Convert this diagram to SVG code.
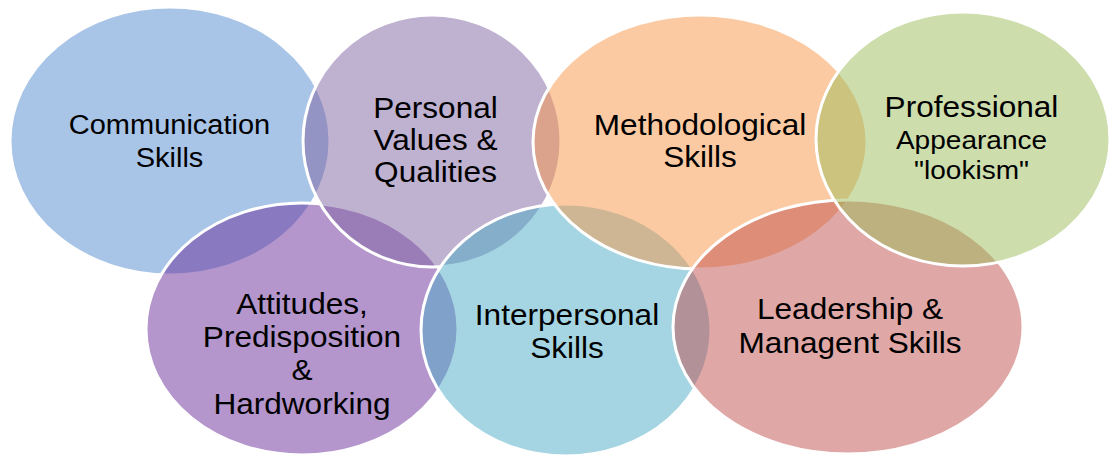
<svg xmlns="http://www.w3.org/2000/svg" width="1111" height="455" viewBox="0 0 1111 455">
  <style>
    .bubble { stroke: #ffffff; stroke-width: 3; fill-opacity: 0.5; }
    .label { font-family: "Liberation Sans", Arial, sans-serif; font-size: 29.5px; fill: #000000; text-anchor: middle; }
    .small { font-size: 26.2px; }
    .comm { font-size: 28px; }
  </style>
  <rect width="1111" height="455" fill="#ffffff"/>

  <!-- interlocking skill bubbles, painted in zig-zag order left to right;
       labels are slightly widened horizontally -->
  <g id="communication">
    <ellipse class="bubble" cx="170" cy="141" rx="160" ry="134" fill="#5189d0"/>
    <text class="label comm" transform="translate(169.5 0) scale(1.036 1)"><tspan x="0" y="134.3">Communication</tspan><tspan x="0" y="166.7">Skills</tspan></text>
  </g>

  <g id="attitudes">
    <ellipse class="bubble" cx="302" cy="329" rx="156" ry="126" fill="#6a2e9c"/>
    <text class="label" transform="translate(302 0) scale(1.071 1)"><tspan x="0" y="314">Attitudes,</tspan><tspan x="0" y="347">Predisposition</tspan><tspan x="0" y="380.5">&amp;</tspan><tspan x="0" y="414.5">Hardworking</tspan></text>
  </g>

  <g id="personal-values">
    <ellipse class="bubble" cx="432" cy="141" rx="129" ry="126" fill="#8064a2"/>
    <text class="label" transform="translate(435.5 0) scale(1.071 1)"><tspan x="0" y="118.3">Personal</tspan><tspan x="0" y="150.5">Values &amp;</tspan><tspan x="0" y="182.5">Qualities</tspan></text>
  </g>

  <g id="interpersonal">
    <ellipse class="bubble" cx="566" cy="330" rx="145" ry="126" fill="#4bacc6"/>
    <text class="label" transform="translate(567 0) scale(1.071 1)"><tspan x="0" y="325">Interpersonal</tspan><tspan x="0" y="358.3">Skills</tspan></text>
  </g>

  <g id="methodological">
    <ellipse class="bubble" cx="700" cy="142" rx="167" ry="127" fill="#f79646"/>
    <text class="label" transform="translate(700 0) scale(1.071 1)"><tspan x="0" y="135">Methodological</tspan><tspan x="0" y="167.3">Skills</tspan></text>
  </g>

  <g id="leadership">
    <ellipse class="bubble" cx="848" cy="327" rx="175" ry="127" fill="#c0504d"/>
    <text class="label" transform="translate(850 0) scale(1.071 1)"><tspan x="0" y="319.3">Leadership &amp;</tspan><tspan x="0" y="352.7">Managent Skills</tspan></text>
  </g>

  <g id="professional">
    <ellipse class="bubble" cx="963" cy="139" rx="147" ry="127" fill="#9bbb59"/>
    <text class="label" transform="translate(971.5 0) scale(1.071 1)"><tspan x="0" y="117.3">Professional</tspan><tspan class="small" x="0" y="149">Appearance</tspan><tspan class="small" x="0" y="179.3">"lookism"</tspan></text>
  </g>

  <g id="connectors"/>
</svg>
